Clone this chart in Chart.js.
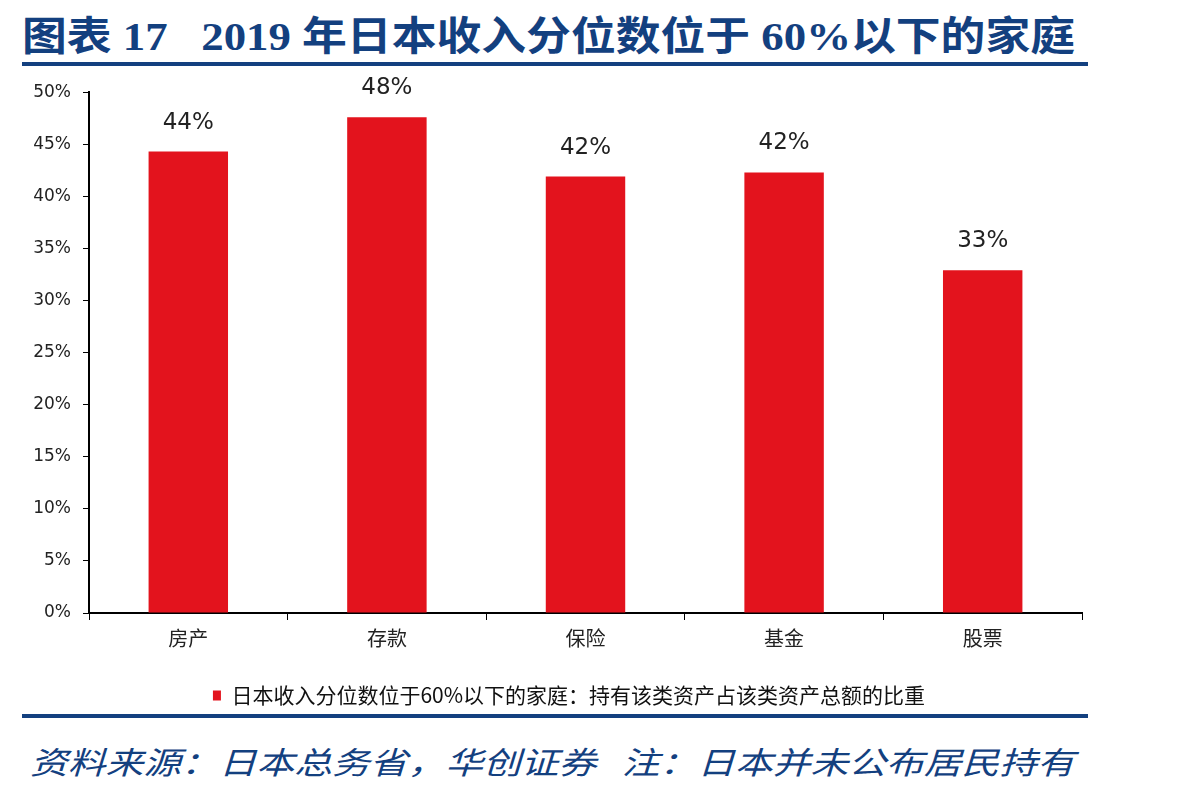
<!DOCTYPE html>
<html><head><meta charset="utf-8">
<script src="https://cdn.jsdelivr.net/npm/chart.js@4.4.0/dist/chart.umd.min.js"></script>
<style>
html,body{margin:0;padding:0;background:#fff;width:1198px;height:794px;overflow:hidden;position:relative;}
#title{position:absolute;left:22px;top:4px;white-space:nowrap;font-family:"Liberation Serif","Noto Sans CJK SC",serif;font-weight:bold;font-size:40px;color:#13407f;transform-origin:0 0;}
.rule{position:absolute;left:22px;width:1066px;height:4px;background:#13407f;}
#foot{position:absolute;left:30px;top:738px;white-space:nowrap;font-family:"Noto Sans CJK SC",sans-serif;font-style:italic;font-size:31px;color:#13407f;transform-origin:0 0;}
#wrap{position:absolute;left:0;top:70px;width:1198px;height:646px;}
</style></head><body>
<div id="title">图表 17&nbsp;&nbsp;&nbsp;2019 年日本收入分位数位于 60%以下的家庭</div>
<div class="rule" style="top:62px"></div>
<div class="rule" style="top:714px"></div>
<div id="foot">资料来源：日本总务省，华创证券&nbsp;&nbsp;&nbsp;注：日本并未公布居民持有</div>
<div id="wrap"><canvas id="c"></canvas></div>
<script>
const categories = ["房产","存款","保险","基金","股票"];
const seriesName = "日本收入分位数位于60%以下的家庭：持有该类资产占该类资产总额的比重";
const values = [44.3, 47.6, 41.9, 42.3, 32.9];
const yTicks = [0,5,10,15,20,25,30,35,40,45,50];

function fitWidth(id, w){const el=document.getElementById(id);const r=el.scrollWidth;el.style.transform='scaleX('+(w/r)+')';}
fitWidth('title',1053);
fitWidth('foot',1045);

const labelPlugin = {
  id:'barLabels',
  afterDatasetsDraw(chart){
    const ctx=chart.ctx;const meta=chart.getDatasetMeta(0);
    ctx.save();ctx.font='23px "DejaVu Sans", sans-serif';ctx.fillStyle='#222';ctx.textAlign='center';ctx.textBaseline='alphabetic';
    meta.data.forEach((bar,i)=>{ctx.fillText(Math.round(values[i])+'%',bar.x,bar.y-23);});
    ctx.restore();
  }
};
const legendShift = {
  id:'legendShift',
  afterLayout(chart){ if(chart.legend){chart.legend.left+=28;chart.legend.right+=28;} }
};

new Chart(document.getElementById('c'),{
  type:'bar',
  data:{labels:categories,datasets:[{label:seriesName,data:values,backgroundColor:'#e3131d',borderWidth:0,categoryPercentage:1,barPercentage:0.4}]},
  options:{
    responsive:true,maintainAspectRatio:false,animation:false,
    layout:{padding:{top:21,right:116,left:0,bottom:0}},
    plugins:{
      tooltip:{enabled:false},
      legend:{position:'bottom',labels:{boxWidth:8,boxHeight:10,color:'#111',font:{size:21,family:'"Noto Sans CJK SC", sans-serif'},padding:10}}
    },
    scales:{
      x:{grid:{display:true,drawOnChartArea:false,drawTicks:true,tickLength:7,color:'#000',offset:true},border:{color:'#000',width:2},
         ticks:{color:'#222',font:{size:20,family:'"Noto Sans CJK SC", sans-serif'},padding:6},
         afterFit(s){s.height=62;}},
      y:{min:0,max:50,grid:{display:true,drawOnChartArea:false,drawTicks:true,tickLength:6,color:'#000'},border:{color:'#000',width:2},
         afterBuildTicks(s){s.ticks=yTicks.map(v=>({value:v}));},
         ticks:{color:'#222',font:{size:17,family:'"DejaVu Sans", sans-serif'},padding:12,callback:v=>v+'%'},
         afterFit(s){s.width=89;}}
    }
  },
  plugins:[labelPlugin, legendShift]
});
</script>
</body></html>
